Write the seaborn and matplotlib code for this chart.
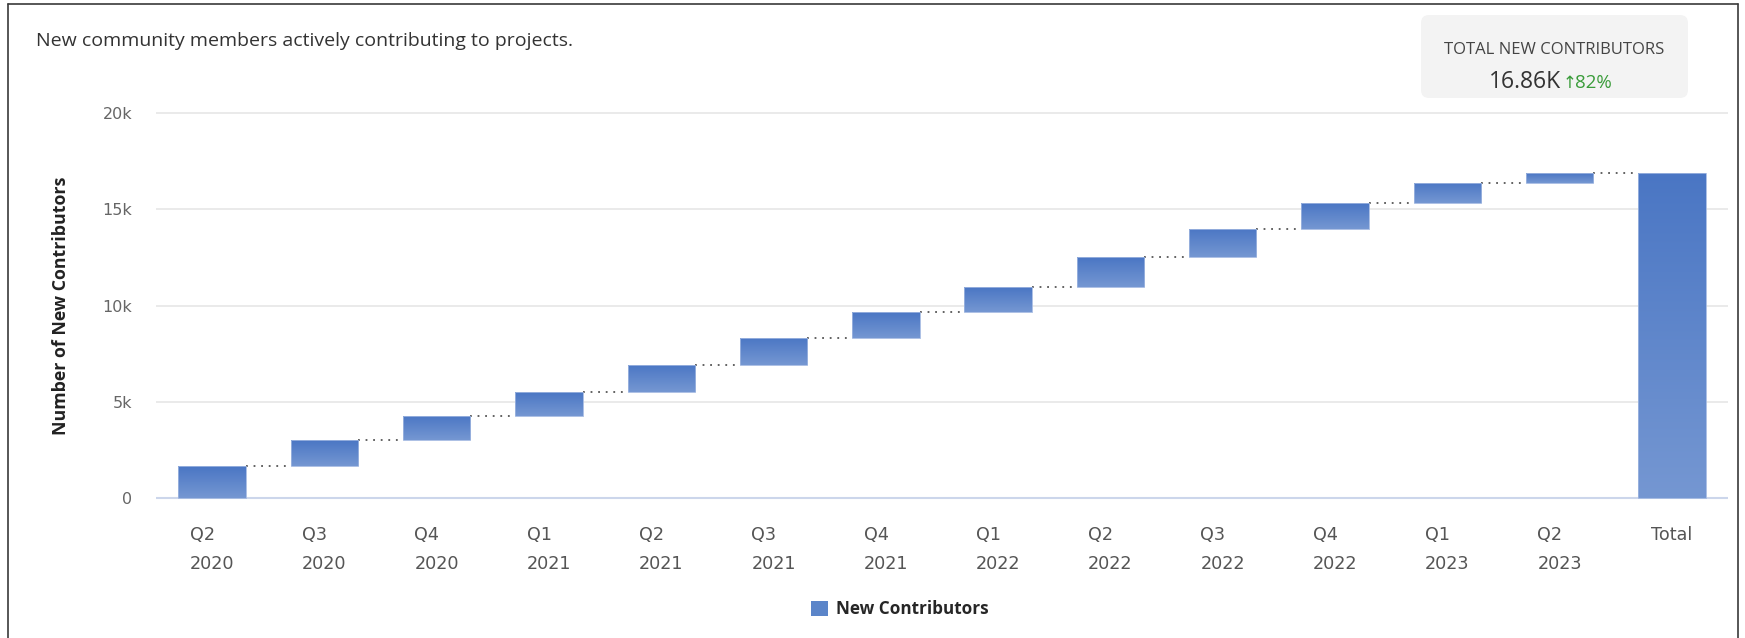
import numpy as np
import pandas as pd
import seaborn as sns
import matplotlib.pyplot as plt
from matplotlib.colors import LinearSegmentedColormap
from matplotlib.patches import Patch, FancyBboxPatch
from matplotlib.lines import Line2D
from matplotlib.transforms import IdentityTransform

# data
quarters = ["Q2\n2020", "Q3\n2020", "Q4\n2020", "Q1\n2021", "Q2\n2021", "Q3\n2021",
            "Q4\n2021", "Q1\n2022", "Q2\n2022", "Q3\n2022", "Q4\n2022", "Q1\n2023",
            "Q2\n2023"]
new_contributors = [1650, 1350, 1280, 1220, 1420, 1410, 1330, 1290, 1550, 1500, 1330, 1040, 490]
total_label = "Total"
total_contributors = 16860
growth_pct = 82
yticks = [0, 5000, 10000, 15000, 20000]
ytick_labels = ["0", "5k", "10k", "15k", "20k"]

ends = np.cumsum(new_contributors)
starts = ends - np.array(new_contributors)

df = pd.DataFrame({
    "quarter": quarters + [total_label],
    "height": new_contributors + [total_contributors],
    "bottom": list(starts) + [0],
})

sns.set_theme(style="white")
plt.rcParams["font.family"] = ["Open Sans", "DejaVu Sans"]

W, H = 1745, 638
fig = plt.figure(figsize=(W / 100, H / 100), dpi=100)
fig.patch.set_facecolor("white")

# axes placed in pixel terms
pad_units = 150
px_per_unit = (498 - 113) / 20000
ax_left, ax_right = 156, 1728
ax_top = 113 - pad_units * px_per_unit
ax_bot = 498 + pad_units * px_per_unit
ax = fig.add_axes([ax_left / W, 1 - ax_bot / H, (ax_right - ax_left) / W, (ax_bot - ax_top) / H])

bar_color = "#5b85c9"
sns.barplot(data=df, x="quarter", y="height", color=bar_color, saturation=1,
            width=0.6, ax=ax, zorder=2)

# float the quarterly bars and fill them with a vertical gradient
grad = LinearSegmentedColormap.from_list("bar_grad", ["#7597d2", "#4a76c4"])
gradient = np.linspace(0, 1, 256).reshape(-1, 1)
for patch, bottom in zip(ax.patches, df["bottom"]):
    patch.set_y(bottom)
    x0, w, h = patch.get_x(), patch.get_width(), patch.get_height()
    im = ax.imshow(gradient, cmap=grad, origin="lower", aspect="auto",
                   extent=(x0, x0 + w, bottom, bottom + h), zorder=2)
    im.set_clip_path(patch)
    patch.set_facecolor("none")
    patch.set_edgecolor("#9fb6e0")
    patch.set_linewidth(0.6)
    patch.set_zorder(3)

# dotted connectors between bars
for i, level in enumerate(ends):
    ax.plot([i + 0.3, i + 0.7], [level, level], color="#555555", lw=1.3,
            ls=(0, (1, 3.2)), zorder=1)

ax.set_xlim(-0.5, len(df) - 0.5)
ax.set_ylim(-pad_units, 20000 + pad_units)
ax.set_yticks(yticks)
ax.set_yticklabels(ytick_labels)
ax.yaxis.grid(True, color="#e6e6e6", lw=1.2)
ax.set_axisbelow(True)
ax.axhline(0, color="#ccd6eb", lw=1.5, zorder=1)
for s in ax.spines.values():
    s.set_visible(False)

ax.tick_params(axis="y", length=0, pad=17, labelsize=11.5, labelcolor="#666666",
               labelfontfamily="DejaVu Sans")
ax.tick_params(axis="x", length=0, pad=18, labelsize=12.7, labelcolor="#555555",
               labelfontfamily="DejaVu Sans")
for lbl in ax.get_xticklabels():
    lbl.set_multialignment("left")
    lbl.set_linespacing(1.8)

ax.set_xlabel("")
ax.set_ylabel("Number of New Contributors", fontsize=12.8, fontweight="bold", color="#222222")
ax.yaxis.set_label_coords((70 - ax_left) / (ax_right - ax_left), 0.5)

# subtitle
fig.text(36 / W, 1 - 41 / H, "New community members actively contributing to projects.",
         fontsize=14, color="#333333", va="center", ha="left")

# KPI box
box = FancyBboxPatch((1421, H - 98), 267, 83, boxstyle="round,pad=0,rounding_size=8",
                     transform=IdentityTransform(), fc="#f3f3f3", ec="none")
fig.add_artist(box)
fig.text(1554 / W, 1 - 50 / H, "TOTAL NEW CONTRIBUTORS", fontsize=12, color="#444444",
         ha="center", va="center")
fig.text(1561 / W, 1 - 82 / H, f"{total_contributors / 1000:.2f}K", fontsize=16.5,
         color="#333333", ha="right", va="center")
fig.text(1563 / W, 1 - 83 / H, "\u2191", fontsize=12, color="#3a9c3a",
         ha="left", va="center", family=["DejaVu Sans"])
fig.text(1575 / W, 1 - 83 / H, f"{growth_pct}%", fontsize=13.5, color="#3a9c3a",
         ha="left", va="center")

# legend
handle = Patch(facecolor=bar_color, edgecolor="none", label="New Contributors")
fig.legend(handles=[handle], loc="center", bbox_to_anchor=(900 / W, 1 - 609 / H),
           frameon=False, handlelength=1.0, handleheight=1.0, handletextpad=0.5,
           prop={"weight": "bold", "size": 12.3})

# dark frame around the card
frame = dict(color="#3a3a3a", lw=1.2, transform=IdentityTransform())
fig.add_artist(Line2D([7.5, 7.5], [0, H - 4], **frame))
fig.add_artist(Line2D([7.5, 1737.5], [H - 4, H - 4], **frame))
fig.add_artist(Line2D([1737.5, 1737.5], [0, H - 4], **frame))

fig.savefig("out.png", dpi=100)
